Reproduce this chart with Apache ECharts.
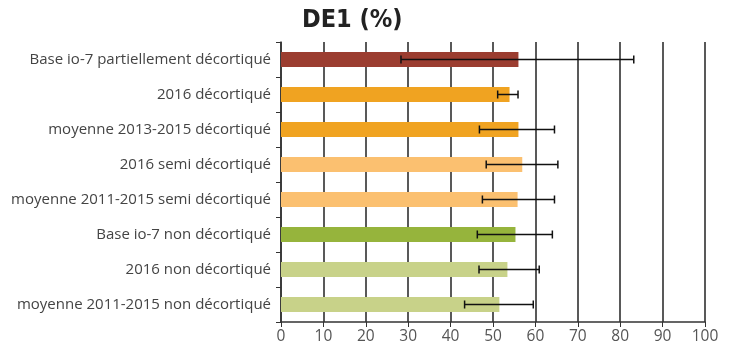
<!DOCTYPE html>
<html><head><meta charset="utf-8">
<script src="https://cdn.jsdelivr.net/npm/echarts@6/dist/echarts.min.js"></script>
<style>html,body{margin:0;padding:0;background:#fff}#c{width:734px;height:349px}</style>
</head><body><div id="c"></div>
<script>
const categories = [
  "Base io-7 partiellement décortiqué",
  "2016 décortiqué",
  "moyenne 2013-2015 décortiqué",
  "2016 semi décortiqué",
  "moyenne 2011-2015 semi décortiqué",
  "Base io-7 non décortiqué",
  "2016 non décortiqué",
  "moyenne 2011-2015 non décortiqué"
];
const values = [56.0, 53.9, 56.0, 56.9, 55.8, 55.3, 53.4, 51.5];
const errLow = [28.3, 51.1, 46.8, 48.4, 47.5, 46.3, 46.7, 43.3];
const errHigh = [83.2, 55.9, 64.5, 65.3, 64.5, 64.0, 60.9, 59.5];
const colors = ["#9B3D30", "#F0A321", "#F0A321", "#FBC070", "#FBC070", "#96B43C", "#C8D289", "#C8D289"];
const xTicks = [0, 10, 20, 30, 40, 50, 60, 70, 80, 90, 100];

const chart = echarts.init(document.getElementById('c'));
chart.setOption({
  animation: false,
  title: {
    text: 'DE1 (%)', left: 297, top: 3,
    textStyle: { fontFamily: 'DejaVu Sans Condensed', fontWeight: 'bold', fontSize: 25, color: '#222' }
  },
  grid: { left: 281, right: 29, top: 42, bottom: 27 },
  xAxis: {
    type: 'value', min: xTicks[0], max: xTicks[xTicks.length - 1], interval: 10,
    axisLine: { show: true, lineStyle: { color: '#333', width: 1.5 } },
    axisTick: { show: true, length: 5, lineStyle: { color: '#333' } },
    splitLine: { show: true, lineStyle: { color: '#222', width: 1.5 } },
    axisLabel: { color: '#555', fontSize: 15.5, fontFamily: 'Open Sans', margin: 7 }
  },
  yAxis: {
    type: 'category', data: categories, inverse: true,
    axisLine: { show: true, lineStyle: { color: '#333', width: 1.5 } },
    axisTick: { show: true, length: 5, lineStyle: { color: '#333' } },
    axisLabel: { color: '#444', fontSize: 15, fontFamily: 'Open Sans', margin: 10 }
  },
  series: [
    {
      type: 'bar', barWidth: 15,
      data: values.map((v, i) => ({ value: v, itemStyle: { color: colors[i] } }))
    },
    {
      type: 'custom',
      data: categories.map((c, i) => [errLow[i], errHigh[i], i]),
      encode: { x: [0, 1], y: 2 },
      z: 10,
      renderItem: function (params, api) {
        const lo = api.coord([api.value(0), api.value(2)]);
        const hi = api.coord([api.value(1), api.value(2)]);
        const h = 4;
        const st = { stroke: '#111', lineWidth: 1.5 };
        return {
          type: 'group',
          children: [
            { type: 'line', shape: { x1: lo[0], y1: lo[1], x2: hi[0], y2: hi[1] }, style: st },
            { type: 'line', shape: { x1: lo[0], y1: lo[1] - h, x2: lo[0], y2: lo[1] + h }, style: st },
            { type: 'line', shape: { x1: hi[0], y1: hi[1] - h, x2: hi[0], y2: hi[1] + h }, style: st }
          ]
        };
      }
    }
  ]
});
</script>
</body></html>
